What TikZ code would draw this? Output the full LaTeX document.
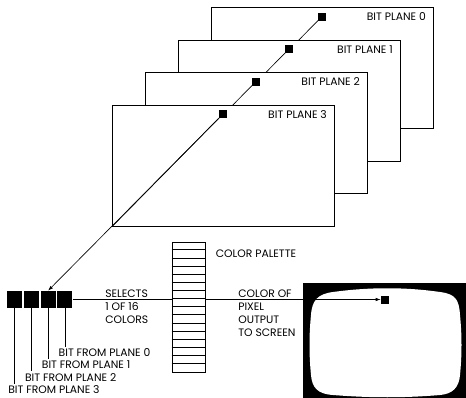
\documentclass[tikz,border=0pt]{standalone}
\usepackage{fontspec}
\setmainfont{Poppins}
\usetikzlibrary{arrows.meta,calc}

\begin{document}
\begin{tikzpicture}[x=1pt, y=-1pt, line width=0.65pt,
    lbl/.style={font=\fontsize{10.8}{13}\selectfont, inner sep=1.5pt},
    plane/.style={draw, fill=white, minimum width=222pt, minimum height=121pt, inner sep=0pt, anchor=north west},
    dot/.style={fill=black, minimum size=8pt, inner sep=0pt},
    bitbox/.style={fill=black, minimum width=15pt, minimum height=17pt, inner sep=0pt},
    tip/.style={-{Latex[length=5pt,width=3.5pt]}}]
    \useasboundingbox (0,0) rectangle (466,398);
    % Bit planes, back to front
    \foreach \k/\o in {0/3,1/2,2/1,3/0} {
        \node[plane] (p\k) at ({112+33*\o}, {105-32.5*\o}) {};
        \node[lbl, anchor=east] (t\k) at ($(p\k.north east)+(-6,9.5)$) {BIT PLANE \k};
        \coordinate (c\k) at ($(p\k.north west)+(110.5,9.5)$);
        \draw (c\k) -- (p\k.south west);
        \node[dot] (s\k) at (c\k) {};
    }
    % Bits from the four planes
    \foreach \i/\x in {3/14.5,2/31.3,1/48.1,0/64.9} {
        \node[bitbox] (b\i) at (\x, 299.5) {};
        \node[lbl, anchor=west] (f\i) at ({\x-8}, {352.5+12.33*\i}) {BIT FROM PLANE \i};
        \draw (b\i.south) -- (b\i.south |- f\i.north);
    }
    \draw[tip] (s3) -- (b1.north);
    % Color palette
    \node[draw, minimum width=33pt, minimum height=130pt, inner sep=0pt] (pal) at (188.5, 307) {};
    \foreach \r in {1,...,15}
        \draw ($(pal.north west)+(0,\r*8.125)$) -- ($(pal.north east)+(0,\r*8.125)$);
    \node[lbl, anchor=west] (cp) at (214, 254) {COLOR PALETTE};
    \node[lbl, anchor=west, align=left] (sel) at (103.5, 306.5) {SELECTS\\1 OF 16\\COLORS};
    \node[lbl, anchor=west, align=left] (out) at (236.5, 313) {COLOR OF\\PIXEL\\OUTPUT\\TO SCREEN};
    % Screen
    \fill (303,283) rectangle (466,398);
    \fill[white] (333,292) .. controls (370,287) and (405,287) .. (440,292)
        .. controls (456,294) and (459,300) .. (460,315)
        .. controls (462,335) and (462,355) .. (460,375)
        .. controls (459,388) and (452,394) .. (440,395)
        .. controls (405,398) and (370,398) .. (333,395)
        .. controls (318,394) and (312,388) .. (311,375)
        .. controls (309,355) and (309,335) .. (311,315)
        .. controls (312,300) and (318,294) .. (333,292) -- cycle;
    \node[dot] (pix) at (385, 299.5) {};
    \draw (b0.east) -- (b0.east -| pal.west);
    \draw[tip] (pal.east |- pix.west) -- (pix.west);
\end{tikzpicture}
\end{document}
